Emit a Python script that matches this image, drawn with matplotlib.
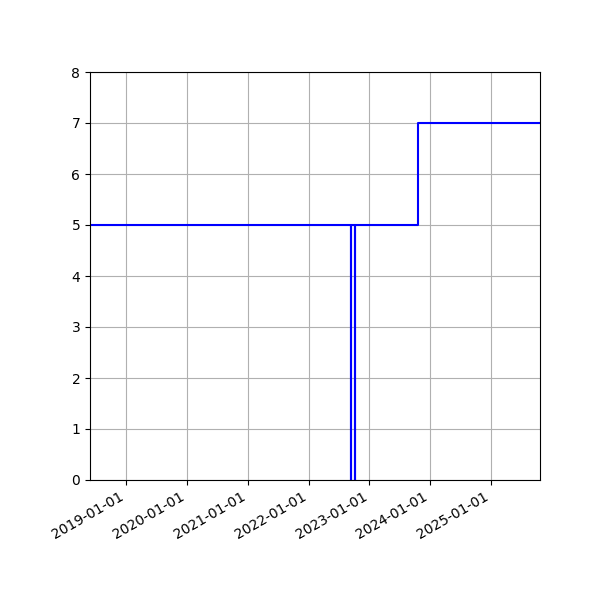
import numpy as np
import matplotlib
matplotlib.use('Agg')
import matplotlib.pyplot as plt
import matplotlib.dates as mdates

# two short outages to 0 in autumn 2022, each lasting a single day
dates = np.array(['2018-05-27', '2022-09-15', '2022-09-15', '2022-10-06', '2022-10-06',
                  '2023-10-21', '2025-10-23'], dtype='datetime64[D]')
values = [5, 0, 5, 0, 5, 7, 7]

fig, ax = plt.subplots(figsize=(6, 6), dpi=100)
ax.step(dates, values, where='post', color='blue')

ax.set_xlim(dates[0], dates[-1])
ax.set_ylim(0, 8)
ax.xaxis.set_major_locator(mdates.YearLocator())
ax.xaxis.set_major_formatter(mdates.DateFormatter('%Y-%m-%d'))
ax.grid(True)

fig.autofmt_xdate()
fig.subplots_adjust(left=0.15, right=0.9, top=0.88, bottom=0.2)
fig.savefig('out.png', dpi=100)
